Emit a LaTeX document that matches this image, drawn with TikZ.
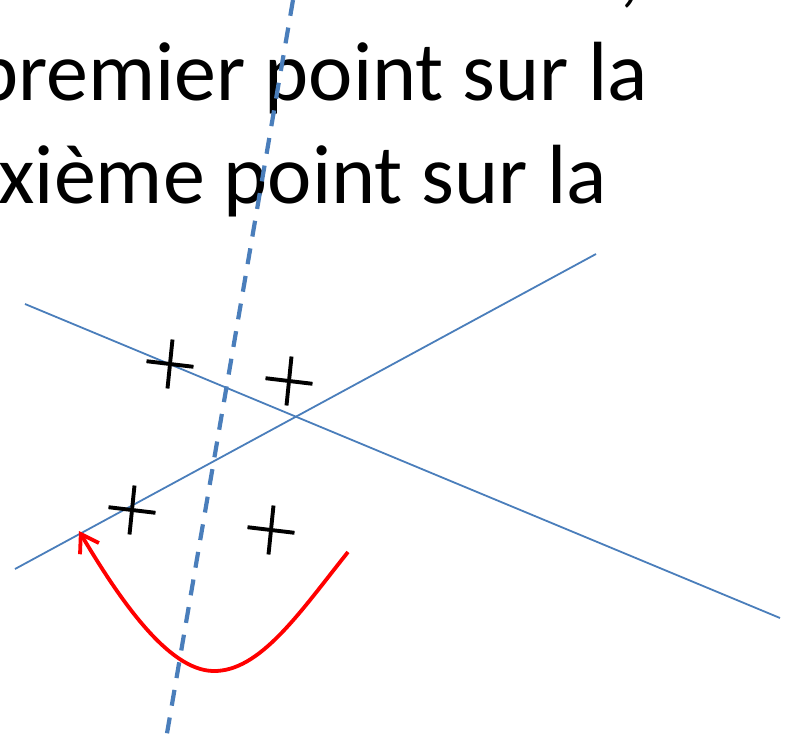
\documentclass[tikz,border=0pt]{standalone}
\usepackage{fontspec}
\setmainfont{Carlito}
\usetikzlibrary{arrows.meta}
\definecolor{lineblue}{HTML}{4A7EBB}
\begin{document}
\begin{tikzpicture}[x=1pt,y=-1pt,
  bigtext/.style={font=\fontsize{84}{100}\selectfont, inner sep=0pt, text=black},
  thinline/.style={draw=lineblue, line width=1.8pt},
  dashline/.style={draw=lineblue, line width=4.2pt, dash pattern=on 16pt off 12pt},
  redcurve/.style={draw=red, line width=3.8pt, -{Straight Barb[length=17pt,width=22pt,line width=3.8pt]}},
  crossmark/.pic={\draw[black, line width=3.9pt] (2.5,-24.5) -- (-2.5,24.5) (-23.5,-2.8) -- (23.5,2.8);}
]
\useasboundingbox (0,0) rectangle (794,741);
\clip (0,0) rectangle (794,741);
% text
\node[bigtext, anchor=base west] (comma) at (619,-2) {,};
\node[bigtext, anchor=base east] (line1) at (648,100) {premier point sur la};
\node[bigtext, anchor=base east] (line2) at (607,203) {xième point sur la};
% lines
\coordinate (d1) at (293,0);
\coordinate (d2) at (165,745);
\coordinate (a1) at (25,304);
\coordinate (a2) at (780,618);
\coordinate (b1) at (15,569);
\coordinate (b2) at (596,254);
\draw[thinline] (a1) -- (a2);
\draw[thinline] (b1) -- (b2);
\draw[dashline] (d1) -- (d2);
% crosses
\coordinate (c1) at (170,364);
\coordinate (c2) at (289,381);
\coordinate (c3) at (132,510);
\coordinate (c4) at (271,530);
\pic at (c1) {crossmark};
\pic at (c2) {crossmark};
\pic at (c3) {crossmark};
\pic at (c4) {crossmark};
% red arrow
\coordinate (r1) at (348,552);
\coordinate (r2) at (213,671);
\coordinate (r3) at (79,531);
\draw[redcurve] (r1) .. controls (300,612) and (260,672) .. (r2) .. controls (168,670) and (120,600) .. (r3);
\end{tikzpicture}
\end{document}
